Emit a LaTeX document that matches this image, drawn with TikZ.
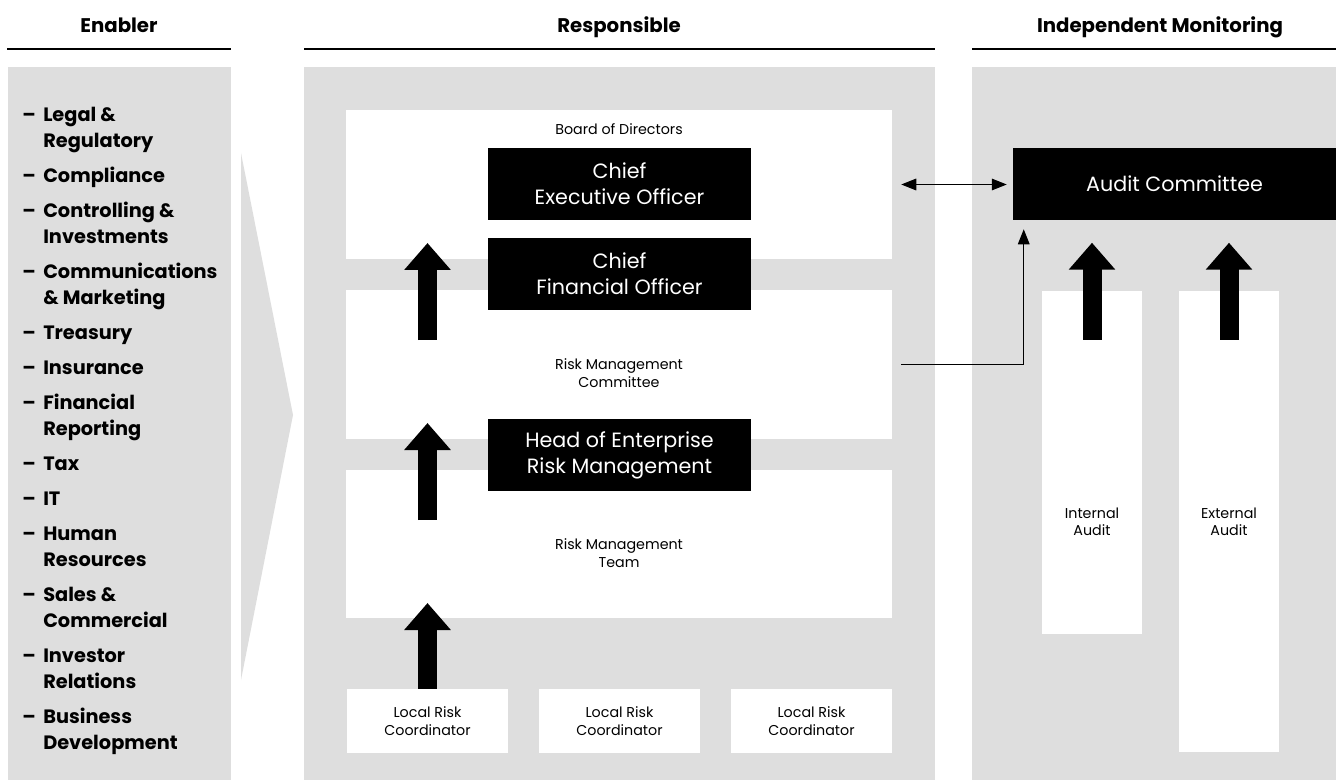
\documentclass[tikz,border=0pt]{standalone}
\usepackage{fontspec}
\setmainfont{Poppins}
\usetikzlibrary{arrows.meta}

\definecolor{panelgray}{HTML}{DEDEDE}

% one line of the enabler list, and its wrapped second line
\newcommand{\enablerline}[1]{\hbox{\makebox[15.75pt][l]{–}#1}}
\newcommand{\enablerwrap}[1]{\hbox{\hspace*{15.75pt}#1}}
\newcommand{\enablergap}{\vskip6.75pt}

\tikzset{
  heading/.style={anchor=base, inner sep=0pt, font=\fontsize{14.8}{17}\selectfont\bfseries},
  rule/.style={line width=2pt},
  enablerlist/.style={anchor=base west, inner sep=0pt, font=\fontsize{14.5}{19.5}\selectfont\bfseries},
  whitebox/.style={fill=white, minimum width=409.5pt, inner sep=0pt},
  blackbox/.style={fill=black, text=white, minimum width=197.25pt, minimum height=54pt,
    inner sep=0pt, align=center, font=\fontsize{15.5}{19.5}\selectfont},
  smalltext/.style={align=center, inner sep=0pt, font=\fontsize{10.7}{13}\selectfont},
  localbox/.style={fill=white, minimum width=120.75pt, minimum height=48pt,
    inner sep=0pt, align=center, font=\fontsize{10.7}{13}\selectfont},
  columnbox/.style={fill=white, minimum width=75pt, inner sep=0pt},
  fat/.style={line width=14.25pt, -{Triangle[length=20.25pt, width=33.75pt]}},
  link/.style={line width=0.75pt, >={Triangle[length=11.25pt, width=8.75pt]}},
}

\begin{document}
\begin{tikzpicture}[x=0.75pt, y=-0.75pt]
\useasboundingbox (0,0) rectangle (1344,780);

% column backgrounds
\fill[panelgray] (8,67) rectangle (231,780);
\fill[panelgray] (241,153) -- (293,415) -- (241,680) -- cycle;
\fill[panelgray] (304,67) rectangle (935,780);
\fill[panelgray] (972,67) rectangle (1336,780);

% headings
\node[heading] (enabler) at (119,33) {Enabler};
\node[heading] (responsible) at (619,33) {Responsible};
\node[heading] (monitoring) at (1160,33) {Independent Monitoring};
\draw[rule] (7,49) -- (231,49);
\draw[rule] (304,49) -- (935,49);
\draw[rule] (972,49) -- (1336,49);

% enabler functions
\node[enablerlist] (functions) at (22,122) {\vtop{%
  \enablerline{Legal \&}\enablerwrap{Regulatory}\enablergap
  \enablerline{Compliance}\enablergap
  \enablerline{Controlling \&}\enablerwrap{Investments}\enablergap
  \enablerline{Communications}\enablerwrap{\& Marketing}\enablergap
  \enablerline{Treasury}\enablergap
  \enablerline{Insurance}\enablergap
  \enablerline{Financial}\enablerwrap{Reporting}\enablergap
  \enablerline{Tax}\enablergap
  \enablerline{IT}\enablergap
  \enablerline{Human}\enablerwrap{Resources}\enablergap
  \enablerline{Sales \&}\enablerwrap{Commercial}\enablergap
  \enablerline{Investor}\enablerwrap{Relations}\enablergap
  \enablerline{Business}\enablerwrap{Development}}};

% responsible
\node[whitebox, minimum height=111.75pt] (board) at (619,184.5) {};
\node[whitebox, minimum height=111.75pt] (rmc) at (619,364.5) {};
\node[whitebox, minimum height=111pt] (team) at (619,544) {};
\node[smalltext] (boardtext) at (619,129) {Board of Directors};
\node[smalltext] (rmctext) at (619,373) {Risk Management\\Committee};
\node[smalltext] (teamtext) at (619,553) {Risk Management\\Team};

\node[localbox] (lrc1) at (427.5,721) {Local Risk\\Coordinator};
\node[localbox] (lrc2) at (619.5,721) {Local Risk\\Coordinator};
\node[localbox] (lrc3) at (811.5,721) {Local Risk\\Coordinator};

\coordinate (cfofoot) at (427.5,340);
\coordinate (cfotip) at (427.5,243);
\coordinate (hermfoot) at (427.5,520);
\coordinate (hermtip) at (427.5,423);
\coordinate (teamtip) at (427.5,603);
\draw[fat] (cfofoot) -- (cfotip);
\draw[fat] (hermfoot) -- (hermtip);
\draw[fat] (lrc1.north) -- (teamtip);

\node[blackbox] (ceo) at (619.5,184) {Chief\\Executive Officer};
\node[blackbox] (cfo) at (619.5,274) {Chief\\Financial Officer};
\node[blackbox] (herm) at (619.5,455) {Head of Enterprise\\Risk Management};

% independent monitoring
\node[blackbox, minimum width=242.25pt] (audit) at (1174.5,184) {Audit Committee};
\node[columnbox, minimum height=257.25pt] (internal) at (1092,462.5) {};
\node[columnbox, minimum height=345.75pt] (external) at (1229,521.5) {};
\node[smalltext] (internaltext) at (1092,522) {Internal\\Audit};
\node[smalltext] (externaltext) at (1229,522) {External\\Audit};
\draw[fat] ([yshift=-36.75pt]internal.north) -- ([yshift=36pt]internal.north);
\draw[fat] ([yshift=-36.75pt]external.north) -- ([yshift=36pt]external.north);

% reporting lines
\draw[link, <->, shorten <=6.75pt, shorten >=4.5pt] (board.east) -- (audit.west |- board.east);
\draw[link, ->] ([xshift=6.75pt]rmc.east) -| ([xshift=8.25pt, yshift=-6.75pt]audit.south west);
\end{tikzpicture}
\end{document}
